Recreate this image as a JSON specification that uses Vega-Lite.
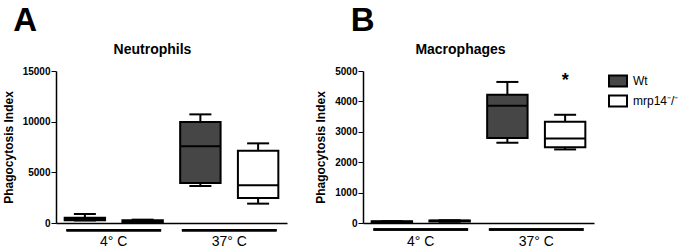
{
  "$schema": "https://vega.github.io/schema/vega-lite/v6.json",
  "padding": {"left": 2, "top": 5, "right": 0, "bottom": 0},
  "background": "white",
  "datasets": {
    "neutro": [
      {"temp": "4° C", "genotype": "Wt", "min": 250, "q1": 260, "median": 420, "q3": 530, "max": 890},
      {"temp": "4° C", "genotype": "mrp14-/-", "min": 100, "q1": 110, "median": 200, "q3": 260, "max": 330},
      {"temp": "37° C", "genotype": "Wt", "min": 3650, "q1": 3950, "median": 7570, "q3": 9970, "max": 10720},
      {"temp": "37° C", "genotype": "mrp14-/-", "min": 1910, "q1": 2470, "median": 3720, "q3": 7140, "max": 7860}
    ],
    "macro": [
      {"temp": "4° C", "genotype": "Wt", "min": 30, "q1": 35, "median": 45, "q3": 55, "max": 60, "sig": ""},
      {"temp": "4° C", "genotype": "mrp14-/-", "min": 40, "q1": 50, "median": 70, "q3": 80, "max": 90, "sig": ""},
      {"temp": "37° C", "genotype": "Wt", "min": 2640, "q1": 2800, "median": 3860, "q3": 4220, "max": 4640, "sig": ""},
      {"temp": "37° C", "genotype": "mrp14-/-", "min": 2420, "q1": 2490, "median": 2780, "q3": 3330, "max": 3560, "sig": "*"}
    ]
  },
  "spacing": 27,
  "resolve": {"scale": {"x": "independent", "y": "independent", "fill": "independent", "xOffset": "independent"}, "legend": {"fill": "independent"}},
  "hconcat": [
    {
      "title": {"text": "A", "anchor": "start", "fontSize": 33, "fontWeight": "bold", "font": "Liberation Sans", "color": "black", "offset": 5, "dx": 11},
      "vconcat": [
        {
          "width": 231,
          "height": 152,
          "title": {"text": "Neutrophils", "fontSize": 14, "fontWeight": "bold", "font": "Liberation Sans", "color": "black", "offset": 9, "dx": -19},
          "data": {"name": "neutro"},
          "encoding": {
            "x": {"field": "temp", "type": "nominal", "sort": ["4° C", "37° C"], "scale": {"paddingInner": 0, "paddingOuter": 0},
              "axis": {"title": null, "labelAngle": 0, "ticks": false, "domainColor": "black", "domainWidth": 1.5, "labelFontSize": 14, "labelFont": "Liberation Sans", "labelColor": "black", "labelPadding": 11}}
          },
          "layer": [
            {
              "mark": {"type": "rule", "color": "black", "strokeWidth": 2},
              "encoding": {
                "xOffset": {"field": "genotype", "type": "nominal", "sort": ["Wt", "mrp14-/-"], "scale": {"paddingInner": 0.3, "paddingOuter": 0.15}},
                "y": {"field": "min", "type": "quantitative", "title": "Phagocytosis Index", "scale": {"domain": [0, 15000], "nice": false},
                  "axis": {"values": [0, 5000, 10000, 15000], "format": "d", "grid": false, "labelFont": "Liberation Sans", "labelFontWeight": "bold", "labelFontSize": 10, "labelColor": "black", "tickColor": "black", "tickSize": 5, "labelPadding": 1, "domainColor": "black", "domainWidth": 1.5, "titleFont": "Liberation Sans", "titleFontSize": 12, "titleFontWeight": "bold", "titleColor": "black", "titlePadding": 7}},
                "y2": {"field": "max"}
              }
            },
            {
              "mark": {"type": "tick", "size": 22, "thickness": 2, "color": "black", "opacity": 1},
              "encoding": {
                "xOffset": {"field": "genotype", "type": "nominal", "sort": ["Wt", "mrp14-/-"]},
                "y": {"field": "min", "type": "quantitative", "title": "Phagocytosis Index",
                  "axis": {"values": [0, 5000, 10000, 15000], "format": "d", "grid": false, "labelFont": "Liberation Sans", "labelFontWeight": "bold", "labelFontSize": 10, "labelColor": "black", "tickColor": "black", "tickSize": 5, "labelPadding": 1, "domainColor": "black", "domainWidth": 1.5, "titleFont": "Liberation Sans", "titleFontSize": 12, "titleFontWeight": "bold", "titleColor": "black", "titlePadding": 7}}
              }
            },
            {
              "mark": {"type": "tick", "size": 22, "thickness": 2, "color": "black", "opacity": 1},
              "encoding": {
                "xOffset": {"field": "genotype", "type": "nominal", "sort": ["Wt", "mrp14-/-"]},
                "y": {"field": "max", "type": "quantitative", "title": "Phagocytosis Index",
                  "axis": {"values": [0, 5000, 10000, 15000], "format": "d", "grid": false, "labelFont": "Liberation Sans", "labelFontWeight": "bold", "labelFontSize": 10, "labelColor": "black", "tickColor": "black", "tickSize": 5, "labelPadding": 1, "domainColor": "black", "domainWidth": 1.5, "titleFont": "Liberation Sans", "titleFontSize": 12, "titleFontWeight": "bold", "titleColor": "black", "titlePadding": 7}}
              }
            },
            {
              "mark": {"type": "bar", "stroke": "black", "strokeWidth": 2, "opacity": 1},
              "encoding": {
                "xOffset": {"field": "genotype", "type": "nominal", "sort": ["Wt", "mrp14-/-"]},
                "y": {"field": "q1", "type": "quantitative", "title": "Phagocytosis Index",
                  "axis": {"values": [0, 5000, 10000, 15000], "format": "d", "grid": false, "labelFont": "Liberation Sans", "labelFontWeight": "bold", "labelFontSize": 10, "labelColor": "black", "tickColor": "black", "tickSize": 5, "labelPadding": 1, "domainColor": "black", "domainWidth": 1.5, "titleFont": "Liberation Sans", "titleFontSize": 12, "titleFontWeight": "bold", "titleColor": "black", "titlePadding": 7}},
                "y2": {"field": "q3"},
                "fill": {"field": "genotype", "type": "nominal", "scale": {"domain": ["Wt", "mrp14-/-"], "range": ["#464646", "#ffffff"]}, "legend": null}
              }
            },
            {
              "mark": {"type": "tick", "size": 40, "thickness": 2, "color": "black", "opacity": 1},
              "encoding": {
                "xOffset": {"field": "genotype", "type": "nominal", "sort": ["Wt", "mrp14-/-"]},
                "y": {"field": "median", "type": "quantitative", "title": "Phagocytosis Index",
                  "axis": {"values": [0, 5000, 10000, 15000], "format": "d", "grid": false, "labelFont": "Liberation Sans", "labelFontWeight": "bold", "labelFontSize": 10, "labelColor": "black", "tickColor": "black", "tickSize": 5, "labelPadding": 1, "domainColor": "black", "domainWidth": 1.5, "titleFont": "Liberation Sans", "titleFontSize": 12, "titleFontWeight": "bold", "titleColor": "black", "titlePadding": 7}}
              }
            },
            {
              "mark": {"type": "bar", "color": "black", "width": {"band": 0.82}},
              "encoding": {
                "y": {"datum": -600, "type": "quantitative", "title": "Phagocytosis Index",
                  "axis": {"values": [0, 5000, 10000, 15000], "format": "d", "grid": false, "labelFont": "Liberation Sans", "labelFontWeight": "bold", "labelFontSize": 10, "labelColor": "black", "tickColor": "black", "tickSize": 5, "labelPadding": 1, "domainColor": "black", "domainWidth": 1.5, "titleFont": "Liberation Sans", "titleFontSize": 12, "titleFontWeight": "bold", "titleColor": "black", "titlePadding": 7}},
                "y2": {"datum": -850}
              }
            }
          ]
        }
      ]
    },
    {
      "title": {"text": "B", "anchor": "start", "fontSize": 33, "fontWeight": "bold", "font": "Liberation Sans", "color": "black", "offset": 5, "dx": 36},
      "vconcat": [
        {
          "width": 231,
          "height": 152,
          "title": {"text": "Macrophages", "fontSize": 14, "fontWeight": "bold", "font": "Liberation Sans", "color": "black", "offset": 9, "dx": -18},
          "data": {"name": "macro"},
          "encoding": {
            "x": {"field": "temp", "type": "nominal", "sort": ["4° C", "37° C"], "scale": {"paddingInner": 0, "paddingOuter": 0},
              "axis": {"title": null, "labelAngle": 0, "ticks": false, "domainColor": "black", "domainWidth": 1.5, "labelFontSize": 14, "labelFont": "Liberation Sans", "labelColor": "black", "labelPadding": 11}}
          },
          "layer": [
            {
              "mark": {"type": "rule", "color": "black", "strokeWidth": 2},
              "encoding": {
                "xOffset": {"field": "genotype", "type": "nominal", "sort": ["Wt", "mrp14-/-"], "scale": {"paddingInner": 0.3, "paddingOuter": 0.15}},
                "y": {"field": "min", "type": "quantitative", "title": "Phagocytosis Index", "scale": {"domain": [0, 5000], "nice": false},
                  "axis": {"values": [0, 1000, 2000, 3000, 4000, 5000], "format": "d", "grid": false, "labelFont": "Liberation Sans", "labelFontWeight": "bold", "labelFontSize": 10, "labelColor": "black", "tickColor": "black", "tickSize": 5, "labelPadding": 1, "domainColor": "black", "domainWidth": 1.5, "titleFont": "Liberation Sans", "titleFontSize": 12, "titleFontWeight": "bold", "titleColor": "black", "titlePadding": 7}},
                "y2": {"field": "max"}
              }
            },
            {
              "mark": {"type": "tick", "size": 22, "thickness": 2, "color": "black", "opacity": 1},
              "encoding": {
                "xOffset": {"field": "genotype", "type": "nominal", "sort": ["Wt", "mrp14-/-"]},
                "y": {"field": "min", "type": "quantitative", "title": "Phagocytosis Index",
                  "axis": {"values": [0, 1000, 2000, 3000, 4000, 5000], "format": "d", "grid": false, "labelFont": "Liberation Sans", "labelFontWeight": "bold", "labelFontSize": 10, "labelColor": "black", "tickColor": "black", "tickSize": 5, "labelPadding": 1, "domainColor": "black", "domainWidth": 1.5, "titleFont": "Liberation Sans", "titleFontSize": 12, "titleFontWeight": "bold", "titleColor": "black", "titlePadding": 7}}
              }
            },
            {
              "mark": {"type": "tick", "size": 22, "thickness": 2, "color": "black", "opacity": 1},
              "encoding": {
                "xOffset": {"field": "genotype", "type": "nominal", "sort": ["Wt", "mrp14-/-"]},
                "y": {"field": "max", "type": "quantitative", "title": "Phagocytosis Index",
                  "axis": {"values": [0, 1000, 2000, 3000, 4000, 5000], "format": "d", "grid": false, "labelFont": "Liberation Sans", "labelFontWeight": "bold", "labelFontSize": 10, "labelColor": "black", "tickColor": "black", "tickSize": 5, "labelPadding": 1, "domainColor": "black", "domainWidth": 1.5, "titleFont": "Liberation Sans", "titleFontSize": 12, "titleFontWeight": "bold", "titleColor": "black", "titlePadding": 7}}
              }
            },
            {
              "mark": {"type": "bar", "stroke": "black", "strokeWidth": 2, "opacity": 1},
              "encoding": {
                "xOffset": {"field": "genotype", "type": "nominal", "sort": ["Wt", "mrp14-/-"]},
                "y": {"field": "q1", "type": "quantitative", "title": "Phagocytosis Index",
                  "axis": {"values": [0, 1000, 2000, 3000, 4000, 5000], "format": "d", "grid": false, "labelFont": "Liberation Sans", "labelFontWeight": "bold", "labelFontSize": 10, "labelColor": "black", "tickColor": "black", "tickSize": 5, "labelPadding": 1, "domainColor": "black", "domainWidth": 1.5, "titleFont": "Liberation Sans", "titleFontSize": 12, "titleFontWeight": "bold", "titleColor": "black", "titlePadding": 7}},
                "y2": {"field": "q3"},
                "fill": {"field": "genotype", "type": "nominal", "scale": {"domain": ["Wt", "mrp14-/-"], "range": ["#464646", "#ffffff"]},
                  "legend": {"title": null, "orient": "right", "offset": 14, "padding": 0, "symbolType": "M-1,-0.6H1V0.6H-1Z", "symbolSize": 324, "symbolStrokeColor": "black", "symbolStrokeWidth": 2, "labelFont": "Liberation Sans", "labelFontSize": 12, "labelColor": "black", "labelOffset": 5, "rowPadding": 0,
                    "labelExpr": "datum.label == 'Wt' ? 'Wt' : 'mrp14⁻/⁻'",
                    "encode": {"labels": {"update": {"fontStyle": {"signal": "datum.label == 'Wt' ? 'normal' : 'italic'"}}}}}}
              }
            },
            {
              "mark": {"type": "tick", "size": 40, "thickness": 2, "color": "black", "opacity": 1},
              "encoding": {
                "xOffset": {"field": "genotype", "type": "nominal", "sort": ["Wt", "mrp14-/-"]},
                "y": {"field": "median", "type": "quantitative", "title": "Phagocytosis Index",
                  "axis": {"values": [0, 1000, 2000, 3000, 4000, 5000], "format": "d", "grid": false, "labelFont": "Liberation Sans", "labelFontWeight": "bold", "labelFontSize": 10, "labelColor": "black", "tickColor": "black", "tickSize": 5, "labelPadding": 1, "domainColor": "black", "domainWidth": 1.5, "titleFont": "Liberation Sans", "titleFontSize": 12, "titleFontWeight": "bold", "titleColor": "black", "titlePadding": 7}}
              }
            },
            {
              "mark": {"type": "bar", "color": "black", "width": {"band": 0.82}},
              "encoding": {
                "y": {"datum": -175, "type": "quantitative", "title": "Phagocytosis Index",
                  "axis": {"values": [0, 1000, 2000, 3000, 4000, 5000], "format": "d", "grid": false, "labelFont": "Liberation Sans", "labelFontWeight": "bold", "labelFontSize": 10, "labelColor": "black", "tickColor": "black", "tickSize": 5, "labelPadding": 1, "domainColor": "black", "domainWidth": 1.5, "titleFont": "Liberation Sans", "titleFontSize": 12, "titleFontWeight": "bold", "titleColor": "black", "titlePadding": 7}},
                "y2": {"datum": -258}
              }
            },
            {
              "transform": [{"filter": "datum.sig != ''"}],
              "mark": {"type": "text", "fontSize": 18, "fontWeight": "bold", "font": "Liberation Sans", "color": "black", "baseline": "middle"},
              "encoding": {
                "xOffset": {"field": "genotype", "type": "nominal", "sort": ["Wt", "mrp14-/-"]},
                "y": {"datum": 4670, "type": "quantitative", "title": "Phagocytosis Index",
                  "axis": {"values": [0, 1000, 2000, 3000, 4000, 5000], "format": "d", "grid": false, "labelFont": "Liberation Sans", "labelFontWeight": "bold", "labelFontSize": 10, "labelColor": "black", "tickColor": "black", "tickSize": 5, "labelPadding": 1, "domainColor": "black", "domainWidth": 1.5, "titleFont": "Liberation Sans", "titleFontSize": 12, "titleFontWeight": "bold", "titleColor": "black", "titlePadding": 7}},
                "text": {"field": "sig"}
              }
            }
          ]
        }
      ]
    }
  ],
  "config": {"view": {"stroke": null}}
}
